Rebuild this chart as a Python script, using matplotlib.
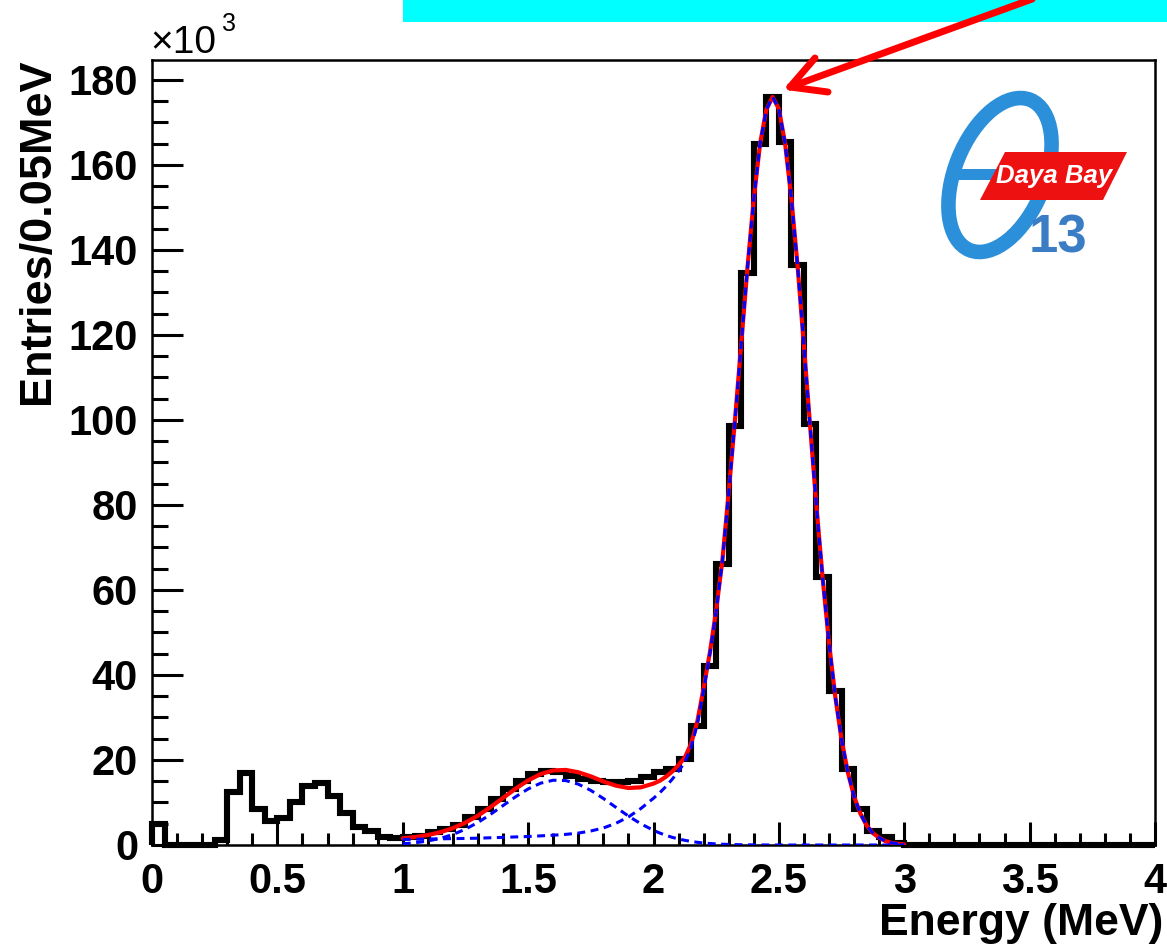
import numpy as np
import matplotlib
matplotlib.use("Agg")
import matplotlib.pyplot as plt
from matplotlib.ticker import MultipleLocator, FuncFormatter
from matplotlib.patches import Rectangle, Ellipse, Polygon

plt.rcParams['font.family'] = ['Liberation Sans', 'DejaVu Sans']

# ---------------- data (entries in units of 10^3) ----------------
bin_width = 0.05
energy_min, energy_max = 0.0, 4.0
counts_k = [
    5.0, 0.0, 0.0, 0.0, 0.0, 1.1, 12.4, 17.0, 8.5, 5.6,
    6.3, 10.0, 13.8, 14.5, 11.5, 7.6, 4.3, 3.3, 1.8, 1.6,
    1.8, 2.2, 3.0, 3.8, 4.7, 6.5, 8.5, 10.8, 13.2, 15.1,
    16.7, 17.5, 17.1, 16.3, 15.5, 15.1, 14.8, 14.8, 15.1, 16.0,
    17.1, 17.8, 20.2, 28.0, 42.0, 66.0, 98.5, 134.7, 165.0, 176.0,
    165.4, 136.5, 99.0, 63.0, 36.2, 17.9, 8.5, 3.3, 1.9, 0.5,
    0.0, 0.0, 0.0, 0.0, 0.0, 0.0, 0.0, 0.0, 0.0, 0.0,
    0.0, 0.0, 0.0, 0.0, 0.0, 0.0, 0.0, 0.0, 0.0, 0.0,
]

# fit curves
fit_x = [1.00, 1.05, 1.10, 1.15, 1.20, 1.25, 1.30, 1.35, 1.40, 1.45,
         1.50, 1.55, 1.60, 1.65, 1.70, 1.75, 1.80, 1.85, 1.90, 1.95,
         2.00, 2.025, 2.05, 2.075, 2.10, 2.125, 2.15, 2.175, 2.20, 2.225,
         2.25, 2.275, 2.30, 2.325, 2.35, 2.375, 2.40, 2.425, 2.45, 2.475,
         2.50, 2.525, 2.55, 2.575, 2.60, 2.625, 2.65, 2.675, 2.70, 2.725,
         2.75, 2.775, 2.80, 2.825, 2.85, 2.875, 2.90, 2.925, 2.95, 2.975, 3.00]
# blue dashed: broad bump near 1.6 MeV
fit_bump = [0.29, 0.53, 0.94, 1.56, 2.47, 3.72, 5.31, 7.21, 9.28, 11.35,
            13.19, 14.55, 15.24, 15.16, 14.32, 12.85, 10.95, 8.86, 6.81, 4.97,
            3.45, 2.81, 2.27, 1.80, 1.42, 1.10, 0.84, 0.63, 0.47, 0.35,
            0.25, 0.18, 0.13, 0.09, 0.06, 0.04, 0.03, 0.02, 0.01, 0.0,
            0.0, 0.0, 0.0, 0.0, 0.0, 0.0, 0.0, 0.0, 0.0, 0.0,
            0.0, 0.0, 0.0, 0.0, 0.0, 0.0, 0.0, 0.0, 0.0, 0.0, 0.0]
# blue dashed: main peak with low-energy tail
fit_peak = [1.30, 1.35, 1.40, 1.45, 1.50, 1.55, 1.60, 1.70, 1.80, 1.90,
            2.00, 2.15, 2.30, 2.50, 2.80, 3.30, 4.00, 5.10, 6.60, 8.60,
            11.0, 12.3, 13.8, 15.5, 17.4, 19.5, 23.0, 28.5, 36.5, 45.0,
            55.0, 67.0, 83.0, 100.0, 118.0, 136.0, 152.0, 165.0, 173.0, 176.0,
            173.2, 165.0, 152.0, 136.0, 117.4, 98.2, 79.6, 62.5, 47.5, 34.9,
            24.8, 17.1, 11.4, 7.4, 4.6, 2.8, 1.7, 0.93, 0.50, 0.28, 0.14]

x_major = 0.5
y_major = 20

# ---------------- figure ----------------
W, H = 1167, 949
fig = plt.figure(figsize=(W / 100, H / 100), dpi=100)
fig.patch.set_facecolor('white')

ax = fig.add_axes([152 / W, 104 / H, 1003 / W, 785 / H])
edges = np.arange(energy_min, energy_max + bin_width / 2, bin_width)
ax.stairs(counts_k, edges, color='black', linewidth=4.4, zorder=3, clip_on=False)

fx = np.array(fit_x)
total = np.array(fit_bump) + np.array(fit_peak)
ax.plot(fx, total, color='red', lw=3.0, zorder=4, solid_capstyle='round')
ax.plot(fx, fit_bump, color='blue', lw=2.2, dashes=(2.6, 1.8), zorder=5)
ax.plot(fx, fit_peak, color='blue', lw=2.2, dashes=(2.6, 1.8), zorder=5)

ax.set_xlim(energy_min, energy_max)
ax.set_ylim(0, 184.7)

ax.xaxis.set_major_locator(MultipleLocator(x_major))
ax.xaxis.set_minor_locator(MultipleLocator(0.1))
ax.yaxis.set_major_locator(MultipleLocator(y_major))
ax.yaxis.set_minor_locator(MultipleLocator(5))
ax.xaxis.set_major_formatter(FuncFormatter(lambda v, p: f"{v:g}"))
ax.yaxis.set_major_formatter(FuncFormatter(lambda v, p: f"{v:g}"))

ax.tick_params(which='both', direction='in', top=False, right=False, color='black')
ax.tick_params(axis='x', which='major', length=16.5, width=2.2, pad=12, labelsize=30)
ax.tick_params(axis='x', which='minor', length=8.6, width=2.2)
ax.tick_params(axis='y', which='major', length=22, width=2.2, pad=10, labelsize=30)
ax.tick_params(axis='y', which='minor', length=11.5, width=2.2)
for lab in ax.get_xticklabels() + ax.get_yticklabels():
    lab.set_fontweight('bold')
for sp in ax.spines.values():
    sp.set_linewidth(1.8)

# axis titles
fig.text(1163 / W, 1 - 923 / H, 'Energy (MeV)', ha='right', va='center',
         fontsize=32, fontweight='bold')
fig.text(38 / W, 1 - 58 / H, 'Entries/0.05MeV', rotation=90, ha='center', va='top',
         fontsize=32.5, fontweight='bold')
fig.text(150 / W, 1 - 53 / H, '\u00d710', ha='left', va='baseline', fontsize=28)
fig.text(222 / W, 1 - 31 / H, '3', ha='left', va='baseline', fontsize=18)

# ---------------- overlay: banner, arrow, logo ----------------
ov = fig.add_axes([0, 0, 1, 1], zorder=10)
ov.set_xlim(0, W)
ov.set_ylim(H, 0)
ov.axis('off')
ov.patch.set_alpha(0)

ov.add_patch(Rectangle((403, 0), W - 403, 22, color='#00FFFF', lw=0))

arrow_kw = dict(color='#FF0000', lw=5.0, solid_capstyle='round')
ov.plot([1035, 790], [-2, 87], **arrow_kw)
ov.plot([790, 815], [87, 58], **arrow_kw)
ov.plot([790, 828], [87, 92], **arrow_kw)

# Daya Bay theta13 logo
ov.add_patch(Rectangle((958, 169), 45, 11, color='#2B90D9', lw=0))
ov.add_patch(Ellipse((1000, 175), 90, 162, angle=22, fill=False,
                     edgecolor='#2B90D9', lw=10.5))
ov.add_patch(Polygon([(1005, 152), (1127, 152), (1103, 200), (980, 200)],
                     closed=True, color='#EE1111', lw=0))
ov.text(1054, 176, 'Daya Bay', color='white', fontsize=18.5, fontweight='bold',
        fontstyle='italic', ha='center', va='center')
ov.text(1058, 238, '13', color='#3A7DC4', fontsize=38, fontweight='bold',
        ha='center', va='center')

fig.savefig('out.png', dpi=100)
